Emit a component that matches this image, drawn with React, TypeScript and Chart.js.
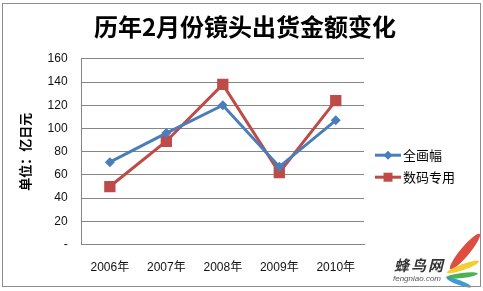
import React, { useEffect, useRef } from "react";
import { Chart, registerables, layouts } from "chart.js";

Chart.register(...registerables);

const TITLE = "历年2月份镜头出货金额变化";
const Y_TITLE = "单位：亿日元";
const categories = ["2006年", "2007年", "2008年", "2009年", "2010年"];
const seriesNames = ["全画幅", "数码专用"];
const fullFrame = [71, 96, 120, 67, 107];
const digital = [50, 89, 138, 62, 124];
const yTicks = [0, 20, 40, 60, 80, 100, 120, 140, 160];

const BLUE = "#4A7EBB";
const RED = "#BE4B48";
const GRID = "#868686";
const CJK = '"Noto Sans CJK SC", "Liberation Sans", sans-serif';
const LATIN = '"Liberation Sans", "Noto Sans CJK SC", sans-serif';
const LEGEND_WIDTH = 109;

// Excel-style legend (line + marker) as a right-hand layout box,
// so that the full-width title stays centred on the whole chart.
function makeLegendBox(chart: any) {
  const box: any = {
    position: "right",
    weight: 10,
    fullSize: false,
    options: { stackWeight: 1 },
    left: 0,
    top: 0,
    right: 0,
    bottom: 0,
    width: 0,
    height: 0,
    isHorizontal: () => false,
    update(_maxW: number, maxH: number) {
      box.width = LEGEND_WIDTH;
      box.height = maxH;
    },
    draw() {
      const { ctx, chartArea } = chart;
      const cx = box.left + 11;
      const cy = (chartArea.top + chartArea.bottom) / 2 + 3.5;
      ctx.save();
      chart.data.datasets.forEach((ds: any, i: number) => {
        const y = cy + i * 22;
        const color = ds.borderColor;
        ctx.strokeStyle = color;
        ctx.lineWidth = 3;
        ctx.beginPath();
        ctx.moveTo(cx, y);
        ctx.lineTo(cx + 26, y);
        ctx.stroke();
        ctx.fillStyle = color;
        ctx.beginPath();
        if (ds.pointStyle === "rectRot") {
          ctx.moveTo(cx + 13, y - 4.5);
          ctx.lineTo(cx + 17.5, y);
          ctx.lineTo(cx + 13, y + 4.5);
          ctx.lineTo(cx + 8.5, y);
          ctx.closePath();
        } else {
          ctx.rect(cx + 8.5, y - 4.5, 9, 9);
        }
        ctx.fill();
        ctx.fillStyle = "#000";
        ctx.font = `13px ${CJK}`;
        ctx.textBaseline = "middle";
        ctx.textAlign = "left";
        ctx.fillText(ds.label, cx + 28, y);
      });
      ctx.restore();
    },
  };
  return box;
}

const excelLegend = {
  id: "excelLegend",
  beforeInit(chart: any) {
    layouts.addBox(chart, makeLegendBox(chart));
  },
};

// decorative watermark feathers
const feathers = [
  { cx: 465, cy: 251, len: 46, th: 9, ang: -50, color: "#d93a2b" },
  { cx: 463, cy: 267, len: 34, th: 6, ang: -20, color: "#f2c81e" },
  { cx: 462, cy: 275, len: 32, th: 5, ang: -7, color: "#3aa845" },
  { cx: 459, cy: 282, len: 26, th: 5, ang: 20, color: "#2a8fd0" },
];

export default function App() {
  const ref = useRef<HTMLCanvasElement | null>(null);

  useEffect(() => {
    if (!ref.current) return;
    const chart = new Chart(ref.current, {
      type: "line",
      data: {
        labels: categories,
        datasets: [
          {
            label: seriesNames[0],
            data: fullFrame,
            borderColor: BLUE,
            backgroundColor: BLUE,
            borderWidth: 3,
            pointStyle: "rectRot",
            pointRadius: 5,
            pointBorderWidth: 0,
            tension: 0,
          },
          {
            label: seriesNames[1],
            data: digital,
            borderColor: RED,
            backgroundColor: RED,
            borderWidth: 3,
            pointStyle: "rect",
            pointRadius: 8,
            pointBorderWidth: 0,
            tension: 0,
          },
        ],
      },
      options: {
        animation: false,
        responsive: false,
        devicePixelRatio: 1,
        layout: { padding: { top: 4, left: 17, right: 10, bottom: 0 } },
        plugins: {
          tooltip: { enabled: false },
          legend: { display: false },
          title: {
            display: true,
            text: TITLE,
            color: "#000",
            font: { family: CJK, size: 24, weight: "bold" },
            padding: { top: 8, bottom: 18 },
          },
        },
        scales: {
          x: {
            offset: true,
            grid: { display: false, drawTicks: false, tickLength: 0 },
            border: { display: true, color: GRID, width: 1 },
            ticks: { color: "#111", font: { family: LATIN, size: 12 }, padding: 16 },
          },
          y: {
            min: 0,
            max: 160,
            afterBuildTicks: (axis: any) => {
              axis.ticks = yTicks.map((v) => ({ value: v }));
            },
            grid: { color: GRID, lineWidth: 1, drawTicks: false, tickLength: 0 },
            border: { display: true, color: GRID, width: 1 },
            ticks: {
              color: "#111",
              font: { family: LATIN, size: 12 },
              padding: 14,
              callback: (v: any) => (Number(v) === 0 ? "-" : String(v)),
            },
            title: {
              display: true,
              text: Y_TITLE,
              color: "#000",
              font: { family: CJK, size: 13, weight: "bold" },
              padding: { top: 0, bottom: 1 },
            },
          },
        },
      },
      plugins: [excelLegend],
    });
    return () => chart.destroy();
  }, []);

  return (
    <div style={{ position: "fixed", left: 0, top: 0, width: 483, height: 291, background: "#fff", overflow: "hidden" }}>
      <canvas ref={ref} width={483} height={291} style={{ position: "absolute", left: 0, top: 0 }} />
      {feathers.map((f, i) => (
        <div
          key={i}
          style={{
            position: "absolute",
            left: f.cx - f.len / 2,
            top: f.cy - f.th / 2,
            width: f.len,
            height: f.th,
            borderRadius: "50%",
            background: f.color,
            transform: `rotate(${f.ang}deg)`,
            opacity: 0.9,
          }}
        />
      ))}
      <div
        style={{
          position: "absolute",
          left: 2,
          top: 3,
          width: 479,
          height: 284,
          boxSizing: "border-box",
          border: "1px solid #8c8c8c",
          pointerEvents: "none",
        }}
      />
      <div
        style={{
          position: "absolute",
          left: 394,
          top: 256,
          fontFamily: CJK,
          fontStyle: "italic",
          fontWeight: "bold",
          fontSize: 15,
          color: "#333",
          letterSpacing: 2,
          lineHeight: "18px",
        }}
      >
        蜂鸟网
      </div>
      <div
        style={{
          position: "absolute",
          left: 393,
          top: 274,
          fontFamily: LATIN,
          fontStyle: "italic",
          fontSize: 8,
          color: "#555",
          lineHeight: "10px",
        }}
      >
        fengniao.com
      </div>
    </div>
  );
}
